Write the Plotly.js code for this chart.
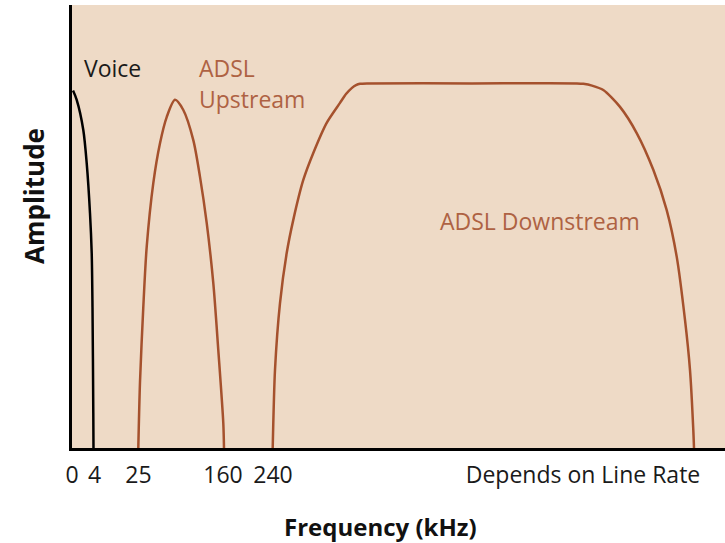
<!DOCTYPE html>
<html>
<head>
<meta charset="utf-8">
<script src="https://cdn.plot.ly/plotly-3.0.1.min.js"></script>
<style>html,body{margin:0;padding:0;background:#fff;}#chart{width:725px;height:543px;}</style>
</head>
<body>
<div id="chart"></div>
<script>
// Frequency axis is schematic (not to scale): positions along the band axis
var voiceX = [1, 4.7, 11.3, 14.7, 18, 19.7, 20.5, 21.3, 21.5];
var voiceY = [80.7, 78.6, 71.8, 64.3, 53.0, 44.0, 31.8, 7.9, 0];

var upX = [66.3, 68, 71.3, 74.7, 81.3, 88, 94.7, 103, 111.3, 121.3, 128, 134.7, 141.3, 146.3, 151.3, 152];
var upY = [0, 14.9, 31.8, 45.4, 59.8, 68.8, 74.7, 78.6, 76.3, 69.5, 61.2, 50.8, 37.2, 22.1, 5.6, 0];

var downX = [200.7, 203, 208, 214.7, 221.3, 231.3, 241.3, 254.7, 268, 274, 280, 284, 288, 295, 400, 505, 511.3, 520, 531.3, 548, 564.7, 581.3, 594.7, 604.7, 613, 618, 621.3, 622];
var downY = [0, 17.6, 32.7, 44.0, 51.5, 60.5, 66.6, 73.4, 77.9, 79.9, 81.3, 81.9, 82.2, 82.3, 82.3, 82.3, 82.2, 81.8, 80.8, 77.0, 71.1, 62.8, 53.7, 43.2, 28.9, 17.6, 4.1, 0];

var tickPos = [0, 22.5, 66.5, 151, 201, 511];
var tickLabels = ['0', '4', '25', '160', '240', 'Depends on Line Rate'];

var BROWN = '#A5512D';
var TEXTBROWN = '#AE6243';
var FONT = 'Open Sans, Noto Sans, sans-serif';
var LABEL_SIZE = 23;

var traces = [
  {x: voiceX, y: voiceY, mode: 'lines', line: {color: '#000000', width: 2.5, shape: 'spline', smoothing: 0.8}, name: 'Voice', hoverinfo: 'skip'},
  {x: upX, y: upY, mode: 'lines', line: {color: BROWN, width: 2.5, shape: 'spline', smoothing: 0.8}, name: 'ADSL Upstream', hoverinfo: 'skip'},
  {x: downX, y: downY, mode: 'lines', line: {color: BROWN, width: 2.5, shape: 'spline', smoothing: 0.7}, name: 'ADSL Downstream', hoverinfo: 'skip'}
];

var layout = {
  width: 725, height: 543,
  margin: {l: 72, r: 0, t: 5, b: 95},
  paper_bgcolor: '#ffffff',
  plot_bgcolor: '#EEDAC6',
  showlegend: false,
  font: {family: FONT, size: LABEL_SIZE, color: '#1a1a1a'},
  xaxis: {
    range: [0, 653], showgrid: false, zeroline: false,
    showline: true, linecolor: '#000000', linewidth: 3,
    tickmode: 'array', tickvals: tickPos, ticktext: tickLabels,
    ticks: '', ticklabelstandoff: 4,
    tickfont: {family: FONT, size: LABEL_SIZE, color: '#1a1a1a'},
    fixedrange: true
  },
  yaxis: {
    range: [0, 100], showgrid: false, zeroline: false,
    showline: true, linecolor: '#000000', linewidth: 3,
    showticklabels: false, ticks: '', fixedrange: true
  },
  annotations: [
    {text: 'Voice', x: 10, y: 85.8, xref: 'x', yref: 'y', xanchor: 'left', yanchor: 'middle', showarrow: false, font: {family: FONT, size: LABEL_SIZE, color: '#1a1a1a'}},
    {text: 'ADSL', x: 125, y: 85.8, xref: 'x', yref: 'y', xanchor: 'left', yanchor: 'middle', showarrow: false, font: {family: FONT, size: LABEL_SIZE, color: TEXTBROWN}},
    {text: 'Upstream', x: 125, y: 78.8, xref: 'x', yref: 'y', xanchor: 'left', yanchor: 'middle', showarrow: false, font: {family: FONT, size: LABEL_SIZE, color: TEXTBROWN}},
    {text: 'ADSL Downstream', x: 366, y: 51.3, xref: 'x', yref: 'y', xanchor: 'left', yanchor: 'middle', showarrow: false, font: {family: FONT, size: LABEL_SIZE, color: TEXTBROWN}},
    {text: '<b>Frequency (kHz)</b>', x: 380, y: 526, xref: 'paper', yref: 'paper', xanchor: 'center', yanchor: 'middle', showarrow: false, font: {family: FONT, size: 24, color: '#111111'}},
    {text: '<b>Amplitude</b>', x: 34, y: 196, textangle: -90, xref: 'paper', yref: 'paper', xanchor: 'center', yanchor: 'middle', showarrow: false, font: {family: FONT, size: 26, color: '#111111'}}
  ]
};

// convert pixel-based title positions into paper coordinates
(function(){
  var pw = 725 - 72 - 0, ph = 543 - 5 - 95;
  var a = layout.annotations;
  a[4].x = (a[4].x - 72) / pw; a[4].y = (543 - 95 - a[4].y) / ph;
  a[5].x = (a[5].x - 72) / pw; a[5].y = (543 - 95 - a[5].y) / ph;
})();

Plotly.newPlot('chart', traces, layout, {displayModeBar: false, staticPlot: true});
</script>
</body>
</html>
